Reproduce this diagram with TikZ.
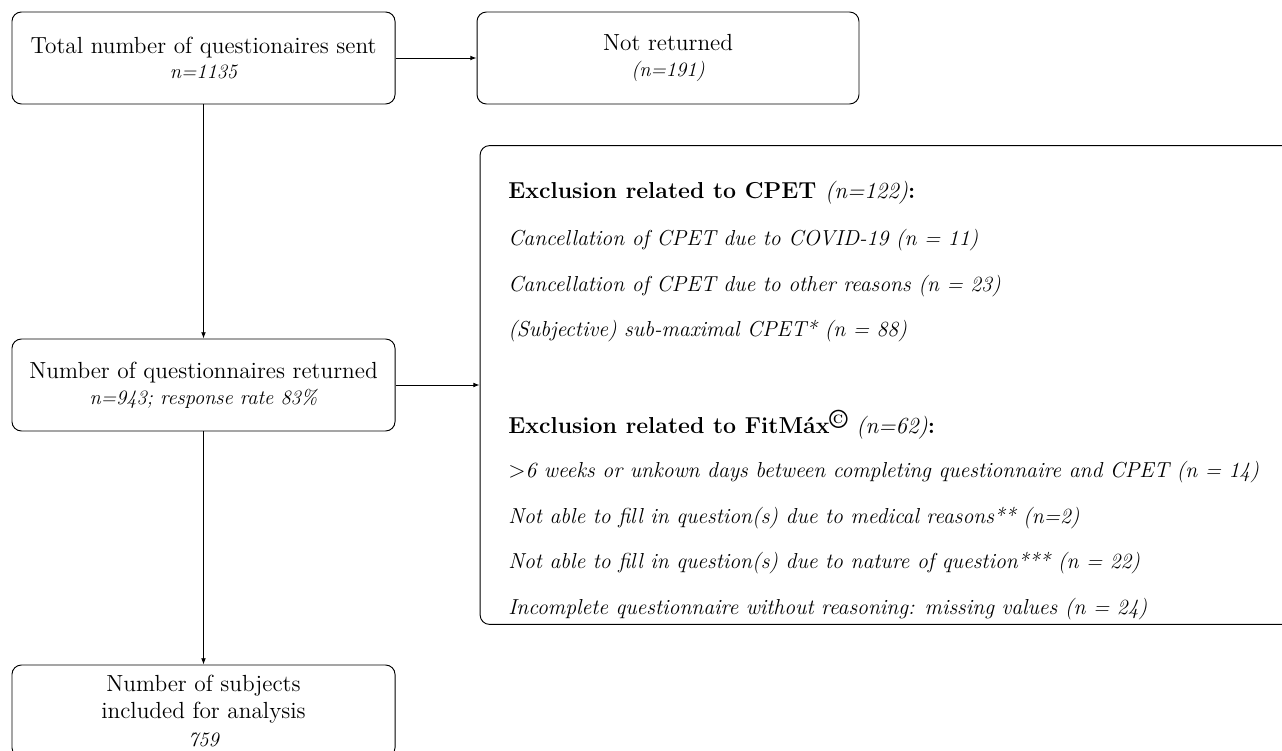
\documentclass[tikz,border=0pt]{standalone}
\usetikzlibrary{arrows.meta}
\begin{document}
\begin{tikzpicture}[x=0.637pt,y=-0.637pt,
  box/.style={draw,rounded corners=6pt,line width=0.6pt,align=center,inner sep=0pt},
  big/.style={font=\fontsize{14.85}{17.5}\selectfont},
  item/.style={anchor=west,inner sep=0pt,font=\fontsize{13.8}{15}\selectfont\itshape},
  head/.style={anchor=west,inner sep=0pt,font=\fontsize{14.7}{17}\selectfont\bfseries},
  conn/.style={line width=0.6pt,-{Latex[length=4pt,width=3pt]}}]
\clip (0,0) rectangle (1282,751);
\fill[white] (0,0) rectangle (1282,751);
\newcommand{\sm}{\fontsize{13}{17.5}\selectfont\itshape}
\node[box,big,minimum width=244pt,minimum height=58.6pt] (a) at (203.5,58)
  {Total number of questionaires sent\\[-1pt]{\sm n=1135}};
\node[box,big,minimum width=243.3pt,minimum height=58.6pt] (b) at (668,58)
  {Not returned\\[-1pt]{\sm (n=191)}};
\node[box,big,minimum width=244pt,minimum height=58.6pt] (c) at (203.5,385)
  {Number of questionnaires returned\\[-1pt]{\sm n=943; response rate 83\%}};
\node[box,big,minimum width=244pt,minimum height=58.6pt] (e) at (203.5,711)
  {Number of subjects\\included for analysis\\{\sm 759}};
\node[box,minimum width=519pt,minimum height=305pt] (d) at (887.5,385) {};
\node[head] (h1) at (508,193) {Exclusion related to CPET {\normalfont\itshape (n=122)}:};
\node[item] (i1) at (508,240) {Cancellation of CPET due to COVID-19 (n = 11)};
\node[item] (i2) at (508,286) {Cancellation of CPET due to other reasons (n = 23)};
\node[item] (i3) at (508,331) {(Subjective) sub-maximal CPET* (n = 88)};
\node[head] (h2) at (508,425) {Exclusion related to FitM\'ax\raisebox{0.5ex}{\fontsize{17}{17}\selectfont\textcopyright} {\normalfont\itshape (n=62)}:};
\node[item] (i4) at (508,472) {$>$6 weeks or unkown days between completing questionnaire and CPET (n = 14)};
\node[item] (i5) at (508,518) {Not able to fill in question(s) due to medical reasons** (n=2)};
\node[item] (i6) at (508,563) {Not able to fill in question(s) due to nature of question*** (n = 22)};
\node[item] (i7) at (508,609) {Incomplete questionnaire without reasoning: missing values (n = 24)};
\draw[conn] (a) -- (b);
\draw[conn] (a) -- (c);
\draw[conn] (c.east) -- (c.east -| d.west);
\draw[conn] (c) -- (e);
\end{tikzpicture}
\end{document}
